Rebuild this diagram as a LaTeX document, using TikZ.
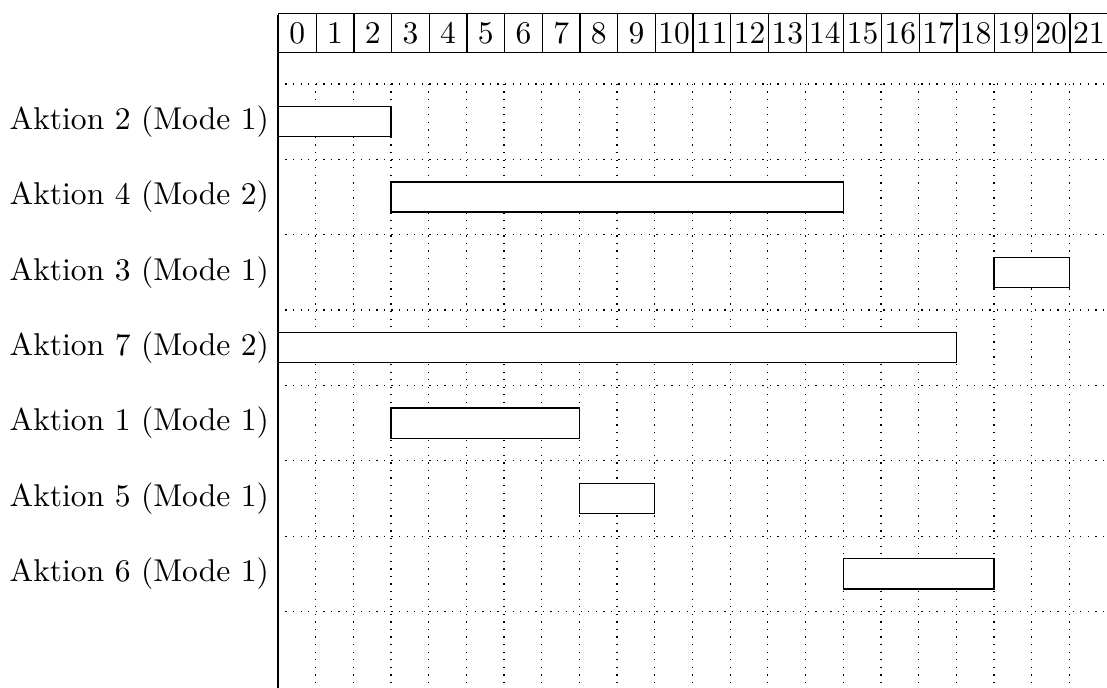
\documentclass[tikz,border=0pt]{standalone}
\usepackage{tikz}
\usetikzlibrary{positioning}

\begin{document}
\begin{tikzpicture}[
   x=0.42cm, y=0.42cm,
   cell/.style={draw, minimum width=0.42cm, minimum height=0.435cm,
      inner sep=0pt, anchor=south west},
   grid/.style={dotted},
   bar/.style={draw, fill=white},
   lab/.style={anchor=east, inner sep=0pt}
]
\useasboundingbox (-7.374,1.406) rectangle (22,-16.84);

% header with the time steps
\foreach \t in {0,...,21}
   \node[cell] (h\t) at (\t,0) {\t};

% dotted grid
\foreach \k in {0,...,7}
   \draw[grid] (0,-0.82-2*\k) -- (22,-0.82-2*\k);
\foreach \t in {1,...,21}
   \draw[grid] (\t,-0.82) -- (\t,-16.84);
\draw (0,1) -- (0,-16.84);

% actions
\foreach \r/\name/\from/\to in {
   1/Aktion 2 (Mode 1)/0/3,
   2/Aktion 4 (Mode 2)/3/15,
   3/Aktion 3 (Mode 1)/19/21,
   4/Aktion 7 (Mode 2)/0/18,
   5/Aktion 1 (Mode 1)/3/8,
   6/Aktion 5 (Mode 1)/8/10,
   7/Aktion 6 (Mode 1)/15/19}
{
   \node[lab] (a\r) at (-0.22,-1.82-2*\r+2) {\name};
   \draw[bar] (\from,-1.42-2*\r+2) rectangle (\to,-2.22-2*\r+2);
}
\end{tikzpicture}
\end{document}
